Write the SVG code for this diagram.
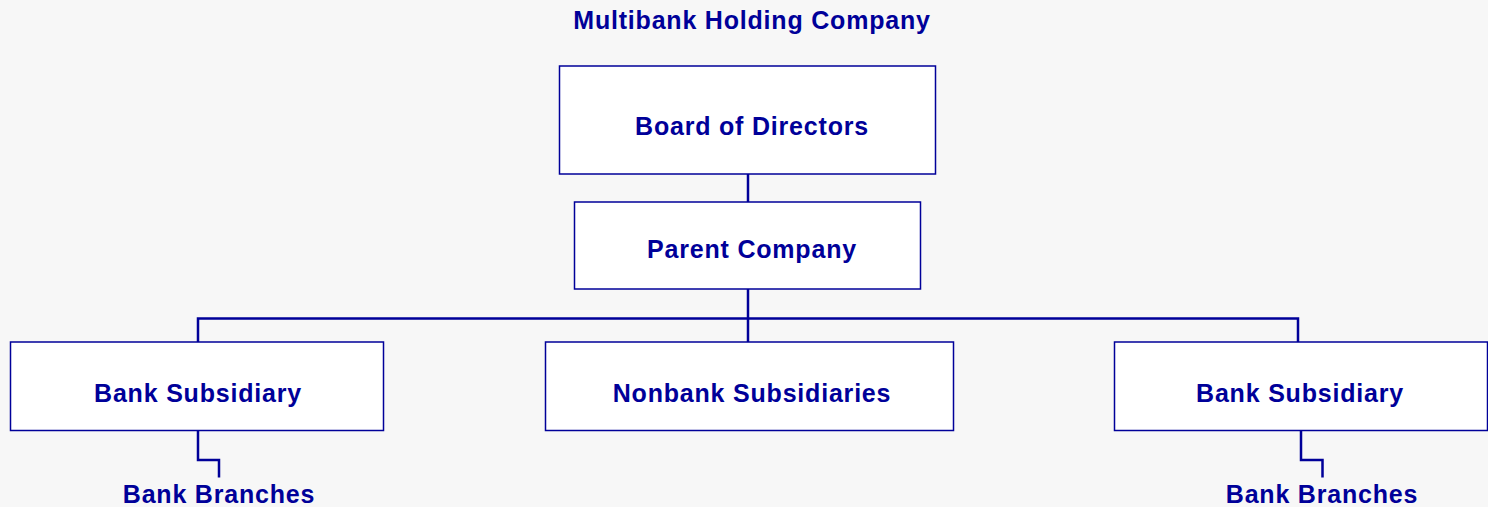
<svg xmlns="http://www.w3.org/2000/svg" width="1488" height="507" viewBox="0 0 1488 507">
<style>
.bg{fill:#f7f7f7}
.box{fill:#ffffff;stroke:#000099;stroke-width:1.5}
.lbl{font-family:"Liberation Sans",Arial,sans-serif;font-weight:bold;font-size:25px;letter-spacing:0.8px;fill:#000099;text-anchor:middle}
.conn{fill:none;stroke:#000099;stroke-width:2.5}
</style>
<rect class="bg" x="0" y="0" width="1488" height="507"/>
<text class="lbl" x="752" y="29">Multibank Holding Company</text>
<g id="connectors">
<line class="conn" x1="748" y1="174" x2="748" y2="202"/>
<line class="conn" x1="748" y1="289" x2="748" y2="342"/>
<polyline class="conn" points="198,342 198,318.5 1298,318.5 1298,342"/>
<polyline class="conn" points="198,430 198,460 219,460 219,477.5"/>
<polyline class="conn" points="1301,430 1301,460 1322.5,460 1322.5,477.5"/>
</g>
<g id="board"><rect class="box" x="559.5" y="66" width="376" height="108"/><text class="lbl" x="752" y="135">Board of Directors</text></g>
<g id="parent"><rect class="box" x="574.5" y="202" width="346" height="87"/><text class="lbl" x="752" y="258">Parent Company</text></g>
<g id="bank1"><rect class="box" x="10.5" y="342" width="373" height="88.5"/><text class="lbl" x="198" y="402">Bank Subsidiary</text></g>
<g id="nonbank"><rect class="box" x="545.5" y="342" width="408" height="88.5"/><text class="lbl" x="752" y="402">Nonbank Subsidiaries</text></g>
<g id="bank2"><rect class="box" x="1114.5" y="342" width="373" height="88.5"/><text class="lbl" x="1300" y="402">Bank Subsidiary</text></g>
<g id="branches1"><text class="lbl" x="219" y="503">Bank Branches</text></g>
<g id="branches2"><text class="lbl" x="1322" y="503">Bank Branches</text></g>
</svg>
